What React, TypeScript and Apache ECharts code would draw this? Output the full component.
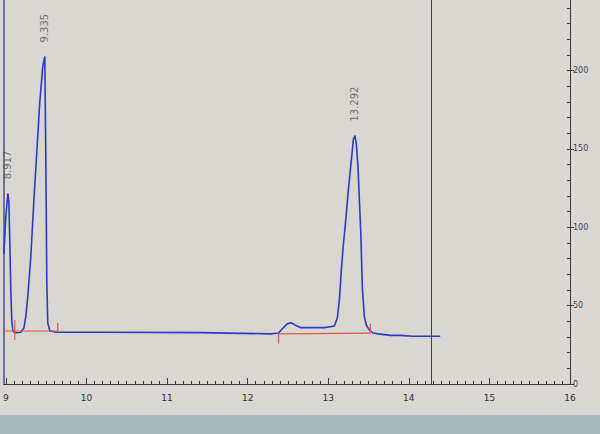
import React, { useEffect, useRef } from "react";
import * as echarts from "echarts";

// Retention time (min) of each trace sample
const traceTimes = [
  8.975, 9.0, 9.025, 9.037, 9.049, 9.062, 9.074, 9.087, 9.111, 9.186, 9.223, 9.248, 9.272, 9.31,
  9.347, 9.384, 9.421, 9.458, 9.483, 9.495, 9.508, 9.52, 9.545, 9.619, 10.177, 11.416, 12.284,
  12.383, 12.445, 12.494, 12.544, 12.593, 12.655, 12.779, 12.965, 13.077, 13.114, 13.139, 13.163,
  13.188, 13.213, 13.25, 13.287, 13.312, 13.331, 13.349, 13.368, 13.386, 13.405, 13.424, 13.448,
  13.473, 13.51, 13.56, 13.622, 13.77, 13.895, 14.043, 14.204, 14.39,
];
// Detector signal (mAU) at each sample
const traceValues = [
  83, 107, 121.7, 116.6, 91, 59, 40, 34, 32.5, 33, 35.7, 43, 56, 81.5,
  116.6, 148, 180, 202.5, 209, 148, 65.6, 39, 34, 33, 33, 32.8, 32,
  32.5, 36, 38.5, 39, 37.5, 36, 36, 36, 37, 42.5, 54, 73,
  89, 102, 124, 143, 156, 158.5, 153, 140, 118, 95, 61, 43,
  37.5, 34.5, 32.5, 32, 31, 31, 30.5, 30.5, 30.5,
];

// Integration baselines (red), null separates segments
const baseTimes = [8.975, 9.644, null, 12.383, 13.523];
const baseValues = [33.8, 33.8, null, 32, 32.5];

// Integration start/stop markers (red ticks): [time, from, to]
const markerTimes = [9.111, 9.644, 12.383, 13.523];
const markerFrom = [28, 33.8, 25.8, 32.5];
const markerTo = [40.8, 38.9, 32, 38.5];

// Peak labels
const peakNames = ["8.917", "9.335", "13.292"];
const peakTimes = [9.025, 9.483, 13.331];
const peakHeights = [121.7, 209, 158.5];

// Cursor line
const cursorTime = 14.28;

// Axes
const xMin = 8.975;
const xMax = 16;
const xLabels = [9, 10, 11, 12, 13, 14, 15, 16];
const yMax = 245;
const yLabels = [0, 50, 100, 150, 200];

export default function App() {
  const ref = useRef<HTMLDivElement>(null);

  useEffect(() => {
    if (!ref.current) return;
    const chart = echarts.init(ref.current, undefined, { renderer: "svg" });

    const xMinor: number[] = [];
    for (let i = 90; i <= 160; i++) xMinor.push(i / 10);
    const yMinor: number[] = [];
    for (let v = 10; v <= 240; v += 10) yMinor.push(v);

    const trace = traceTimes.map((t, i) => [t, traceValues[i]]);
    const base = baseTimes.map((t, i) => (t === null ? [null, null] : [t, baseValues[i]]));
    const markerData: any[] = [];
    markerTimes.forEach((t, i) => {
      markerData.push([t, markerFrom[i]]);
      markerData.push([t, markerTo[i]]);
      markerData.push([null, null]);
    });
    const peaks = peakTimes.map((t, i) => [t, peakHeights[i], peakNames[i]]);

    const font = "DejaVu Sans";

    chart.setOption({
      animation: false,
      backgroundColor: "#dad7d2",
      grid: { left: 3, right: 30, top: 0, bottom: 50, containLabel: false },
      xAxis: [
        {
          type: "value",
          min: xMin,
          max: xMax,
          position: "bottom",
          axisLine: { show: true, lineStyle: { color: "#3a3a3a", width: 1 } },
          axisTick: { show: true, inside: true, length: 6, customValues: xLabels, lineStyle: { color: "#3a3a3a" } },
          axisLabel: { show: true, customValues: xLabels, fontSize: 9, color: "#333", margin: 9, fontFamily: font },
          splitLine: { show: false },
        },
        {
          type: "value",
          min: xMin,
          max: xMax,
          position: "bottom",
          axisLine: { show: false },
          axisTick: { show: true, inside: true, length: 3, customValues: xMinor, lineStyle: { color: "#3a3a3a" } },
          axisLabel: { show: false },
          splitLine: { show: false },
        },
      ],
      yAxis: [
        {
          type: "value",
          min: 0,
          max: yMax,
          position: "right",
          axisLine: { show: true, lineStyle: { color: "#3a3a3a", width: 1 } },
          axisTick: { show: true, length: 4, customValues: yLabels, lineStyle: { color: "#3a3a3a" } },
          axisLabel: { show: true, customValues: yLabels, fontSize: 8, color: "#444", margin: 3, fontFamily: font },
          splitLine: { show: false },
        },
        {
          type: "value",
          min: 0,
          max: yMax,
          position: "right",
          axisLine: { show: false },
          axisTick: { show: true, inside: true, length: 3, customValues: yMinor, lineStyle: { color: "#3a3a3a" } },
          axisLabel: { show: false },
          splitLine: { show: false },
        },
        {
          type: "value",
          min: 0,
          max: yMax,
          position: "left",
          axisLine: { show: true, lineStyle: { color: "#4a4f86", width: 1.5 } },
          axisTick: { show: false },
          axisLabel: { show: false },
          splitLine: { show: false },
        },
      ],
      graphic: [
        {
          type: "rect",
          left: 0,
          top: 415,
          shape: { width: 600, height: 19 },
          style: { fill: "#a9babd" },
          z: -1,
        },
      ],
      series: [
        {
          type: "line",
          data: trace,
          showSymbol: false,
          symbol: "none",
          lineStyle: { color: "#2b3cc4", width: 1.6 },
          z: 3,
          markLine: {
            silent: true,
            symbol: "none",
            label: { show: false },
            lineStyle: { color: "#3d3f50", width: 1, type: "solid" },
            data: [{ xAxis: cursorTime }],
          },
        },
        {
          type: "line",
          data: base,
          showSymbol: false,
          symbol: "none",
          connectNulls: false,
          lineStyle: { color: "#dc5a44", width: 1.2 },
          z: 4,
        },
        {
          type: "line",
          data: markerData,
          showSymbol: false,
          symbol: "none",
          connectNulls: false,
          lineStyle: { color: "#dc5a44", width: 1.2 },
          z: 4,
        },
        {
          type: "scatter",
          data: peaks,
          symbolSize: 0,
          z: 5,
          label: {
            show: true,
            formatter: (p: any) => p.value[2],
            position: "top",
            distance: 14,
            rotate: 90,
            align: "left",
            verticalAlign: "middle",
            fontSize: 10,
            color: "#555",
            fontFamily: font,
          },
        },
      ],
    });

    return () => chart.dispose();
  }, []);

  return (
    <div
      ref={ref}
      style={{ position: "fixed", left: 0, top: 0, width: 600, height: 434 }}
    />
  );
}
